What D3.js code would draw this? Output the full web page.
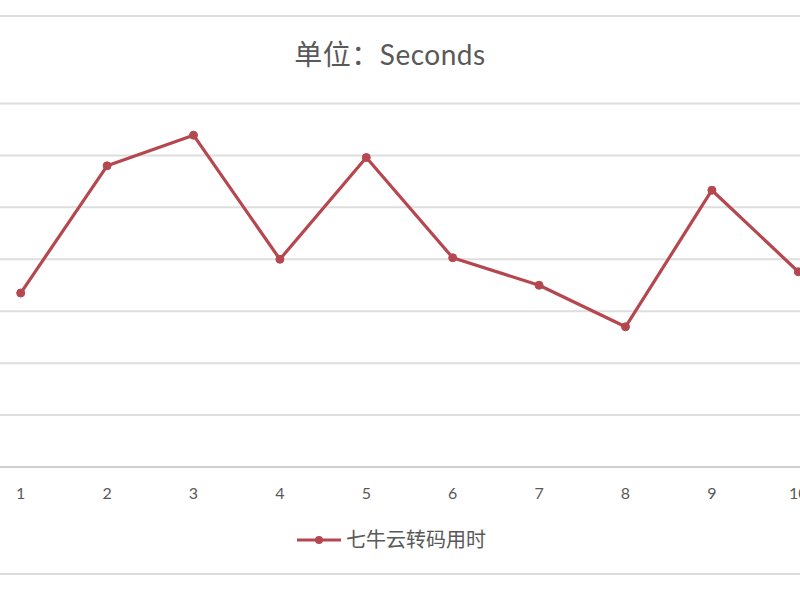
<!DOCTYPE html>
<html>
<head>
<meta charset="utf-8">
<script src="https://cdn.jsdelivr.net/npm/d3@7"></script>
<style>
body { margin: 0; background: #fff; }
</style>
</head>
<body>
<script>
var categories = ["1", "2", "3", "4", "5", "6", "7", "8", "9", "10"];
var seconds = [33.5, 58.0, 63.9, 40.0, 59.6, 40.3, 35.0, 27.0, 53.3, 37.6];
var yTicks = [0, 10, 20, 30, 40, 50, 60, 70];
var seriesName = "七牛云转码用时";
var titleText = "单位：Seconds";

var w = 800,
    h = 600;
var fontFam = "Lato, 'Noto Sans CJK SC', sans-serif";
var red = "#b5474f";

var svg = d3.select("body").append("svg")
    .attr("width", w)
    .attr("height", h);

// chart frame edges (top / bottom)
svg.append("line").attr("x1", 0).attr("x2", w).attr("y1", 16).attr("y2", 16)
    .style("stroke", "#dcdcdc").style("stroke-width", 2);
svg.append("line").attr("x1", 0).attr("x2", w).attr("y1", 574).attr("y2", 574)
    .style("stroke", "#dcdcdc").style("stroke-width", 2);

var x = d3.scaleBand()
    .domain(categories)
    .range([-22.5, 841.5]);

var y = d3.scaleLinear()
    .domain([0, 70])
    .range([467, 103.5]);

// gridlines
svg.append("g")
    .selectAll("line")
    .data(yTicks)
    .enter().append("line")
    .attr("x1", 0)
    .attr("x2", w)
    .attr("y1", function(d){ return y(d); })
    .attr("y2", function(d){ return y(d); })
    .style("stroke", function(d){ return d === 0 ? "#d0d0d0" : "#dedede"; })
    .style("stroke-width", 2);

// x axis labels
var xAxis = d3.axisBottom(x).tickSize(0).tickPadding(21);
var gx = svg.append("g")
    .attr("transform", "translate(0," + y(0) + ")")
    .call(xAxis);
gx.select(".domain").remove();
gx.selectAll("text")
    .style("font-family", fontFam)
    .style("font-size", "16px")
    .style("fill", "#595959");

// title
svg.append("text")
    .attr("x", 390)
    .attr("y", 65)
    .attr("text-anchor", "middle")
    .style("font-family", fontFam)
    .style("font-size", "28px")
    .style("letter-spacing", "0.5px")
    .style("fill", "#595959")
    .text(titleText);

// series line
var line = d3.line()
    .x(function(d, i){ return x(categories[i]) + x.bandwidth() / 2; })
    .y(function(d){ return y(d); });

svg.append("path")
    .datum(seconds)
    .attr("d", line)
    .style("fill", "none")
    .style("stroke", red)
    .style("stroke-width", 3.2)
    .style("stroke-linejoin", "round");

svg.append("g")
    .selectAll("circle")
    .data(seconds)
    .enter().append("circle")
    .attr("cx", function(d, i){ return x(categories[i]) + x.bandwidth() / 2; })
    .attr("cy", function(d){ return y(d); })
    .attr("r", 4)
    .style("fill", red)
    .style("stroke", red);

// legend
var lg = svg.append("g").attr("transform", "translate(297,540)");
lg.append("line")
    .attr("x1", 0).attr("x2", 44).attr("y1", 0).attr("y2", 0)
    .style("stroke", red).style("stroke-width", 3.2);
lg.append("circle")
    .attr("cx", 22).attr("cy", 0).attr("r", 4)
    .style("fill", red);
lg.append("text")
    .attr("x", 49)
    .attr("y", 7)
    .style("font-family", fontFam)
    .style("font-size", "20px")
    .style("fill", "#595959")
    .text(seriesName);
</script>
</body>
</html>
